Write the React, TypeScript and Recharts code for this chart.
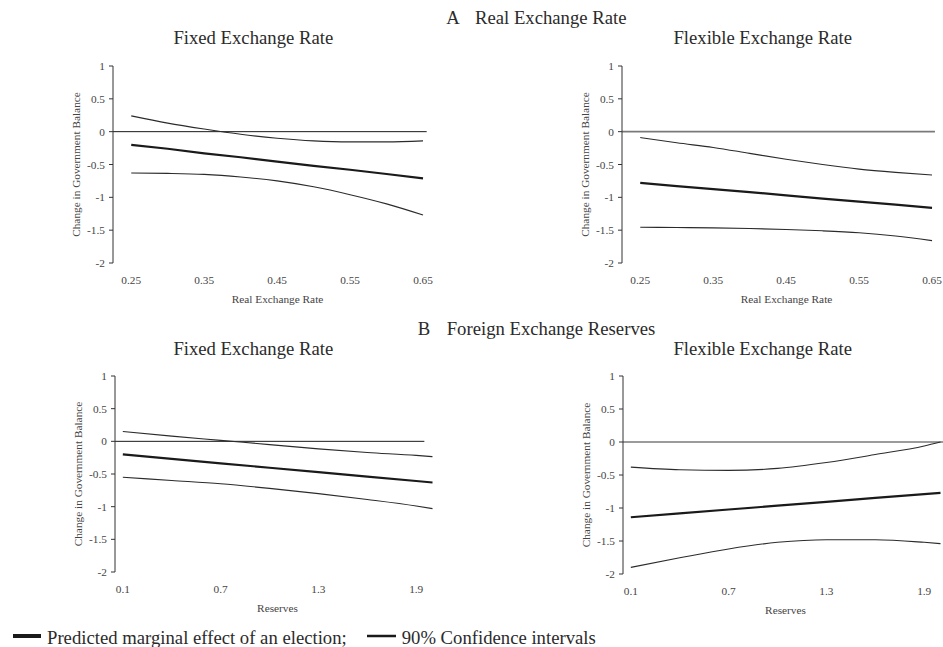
import React from 'react';
import { LineChart, Line, XAxis, YAxis, ReferenceLine } from 'recharts';

const FONT = '"Liberation Serif", "Times New Roman", serif';
const INK = '#2b2b2b';
const SMALL_INK = '#444';

const yTicks = [1, 0.5, 0, -0.5, -1, -1.5, -2];

// Panel A: real exchange rate
const rerX = [0.25, 0.3, 0.35, 0.4, 0.45, 0.5, 0.55, 0.6, 0.65];
const rerTicks = [0.25, 0.35, 0.45, 0.55, 0.65];
const rerTickMarks = [0.225, 0.325, 0.425, 0.525, 0.625];
const rerFixedUpper = [0.24, 0.13, 0.04, -0.04, -0.1, -0.14, -0.155, -0.155, -0.14];
const rerFixedPred = [-0.2, -0.26, -0.33, -0.39, -0.455, -0.52, -0.58, -0.645, -0.71];
const rerFixedLower = [-0.63, -0.635, -0.65, -0.69, -0.75, -0.84, -0.96, -1.1, -1.27];
const rerFlexUpper = [-0.09, -0.17, -0.24, -0.33, -0.42, -0.5, -0.57, -0.62, -0.66];
const rerFlexPred = [-0.78, -0.83, -0.875, -0.92, -0.97, -1.02, -1.065, -1.11, -1.16];
const rerFlexLower = [-1.455, -1.46, -1.465, -1.475, -1.49, -1.51, -1.54, -1.59, -1.66];

// Panel B: foreign exchange reserves
const resX = [0.1, 0.4, 0.7, 1.0, 1.3, 1.6, 1.9, 2.0];
const resTicks = [0.1, 0.7, 1.3, 1.9];
const resTickMarks = [0.052, 0.652, 1.252, 1.852];
const resFixedUpper = [0.15, 0.08, 0.015, -0.05, -0.115, -0.17, -0.215, -0.235];
const resFixedPred = [-0.2, -0.268, -0.336, -0.404, -0.472, -0.539, -0.607, -0.63];
const resFixedLower = [-0.55, -0.6, -0.65, -0.72, -0.8, -0.89, -0.99, -1.03];
const resFlexUpper = [-0.38, -0.42, -0.43, -0.4, -0.31, -0.19, -0.06, 0.0];
const resFlexPred = [-1.14, -1.082, -1.023, -0.965, -0.906, -0.848, -0.789, -0.77];
const resFlexLower = [-1.9, -1.755, -1.62, -1.52, -1.48, -1.48, -1.52, -1.54];

const rerDomain: [number, number] = [0.225, 0.676];
const resDomain: [number, number] = [0.052, 2.046];

interface PanelProps {
  left: number;
  top: number;
  width: number;
  axisX: number;
  plotTop: number;
  plotBottom: number;
  plotRight: number;
  xs: number[];
  upper: number[];
  pred: number[];
  lower: number[];
  domain: [number, number];
  ticks: number[];
  tickMarks: number[];
  xLabel: string;
  zeroEnd: number;
  zeroColor: string;
  zeroWidth: number;
}

const Y_AXIS_W = 75;
const X_AXIS_H = 45;

function Panel(p: PanelProps) {
  const data = p.xs.map((x, i) => ({ x, upper: p.upper[i], pred: p.pred[i], lower: p.lower[i] }));
  const height = p.plotBottom - p.top + X_AXIS_H;
  const smallText = { fill: SMALL_INK, fontSize: 11.3, fontFamily: FONT };

  return (
    <div style={{ position: 'absolute', left: p.left, top: p.top }}>
      <LineChart
        width={p.width}
        height={height}
        data={data}
        margin={{
          top: p.plotTop - p.top,
          right: p.left + p.width - p.plotRight,
          bottom: 0,
          left: p.axisX - Y_AXIS_W - p.left,
        }}
      >
        {/* tick marks sit between the labelled values, so they get their own axis */}
        <XAxis
          xAxisId="marks"
          type="number"
          dataKey="x"
          domain={p.domain}
          ticks={p.tickMarks}
          allowDataOverflow
          interval={0}
          height={0}
          tickSize={4}
          tickFormatter={() => ''}
          stroke="#333"
        />
        <XAxis
          xAxisId="labels"
          type="number"
          dataKey="x"
          domain={p.domain}
          ticks={p.ticks}
          allowDataOverflow
          interval={0}
          height={X_AXIS_H}
          axisLine={false}
          tickLine={false}
          tickSize={0}
          tickMargin={12.5}
          tick={smallText}
          label={{ value: p.xLabel, position: 'insideTop', offset: 32, style: smallText }}
        />
        <YAxis
          type="number"
          domain={[-2, 1]}
          ticks={yTicks}
          allowDataOverflow
          interval={0}
          width={Y_AXIS_W}
          tickSize={4}
          tickMargin={4}
          stroke="#333"
          tick={smallText}
          label={{
            value: 'Change in Government Balance',
            angle: -90,
            position: 'center',
            style: smallText,
          }}
        />
        <ReferenceLine
          xAxisId="labels"
          segment={[{ x: p.domain[0], y: 0 }, { x: p.zeroEnd, y: 0 }]}
          stroke={p.zeroColor}
          strokeWidth={p.zeroWidth}
          ifOverflow="visible"
        />
        <Line xAxisId="labels" type="monotone" dataKey="upper" stroke="#2b2b2b" strokeWidth={1.1} dot={false} isAnimationActive={false} />
        <Line xAxisId="labels" type="monotone" dataKey="lower" stroke="#2b2b2b" strokeWidth={1.1} dot={false} isAnimationActive={false} />
        <Line xAxisId="labels" type="linear" dataKey="pred" stroke="#1a1a1a" strokeWidth={2.2} dot={false} isAnimationActive={false} />
      </LineChart>
    </div>
  );
}

export default function App() {
  const heading = { fill: INK, fontSize: 18.7, fontFamily: FONT };

  return (
    <div
      style={{
        position: 'absolute',
        left: 0,
        top: 0,
        width: 943,
        height: 647,
        overflow: 'hidden',
        background: '#fff',
      }}
    >
      <Panel
        left={0} top={50} width={470}
        axisX={113} plotTop={66} plotBottom={263} plotRight={442}
        xs={rerX} upper={rerFixedUpper} pred={rerFixedPred} lower={rerFixedLower}
        domain={rerDomain} ticks={rerTicks} tickMarks={rerTickMarks}
        xLabel="Real Exchange Rate" zeroEnd={0.655} zeroColor="#1a1a1a" zeroWidth={1}
      />
      <Panel
        left={470} top={50} width={481}
        axisX={622} plotTop={66} plotBottom={263} plotRight={951}
        xs={rerX} upper={rerFlexUpper} pred={rerFlexPred} lower={rerFlexLower}
        domain={rerDomain} ticks={rerTicks} tickMarks={rerTickMarks}
        xLabel="Real Exchange Rate" zeroEnd={0.654} zeroColor="#7a7a7a" zeroWidth={1.6}
      />
      <Panel
        left={0} top={360} width={470}
        axisX={115} plotTop={376} plotBottom={572} plotRight={440}
        xs={resX} upper={resFixedUpper} pred={resFixedPred} lower={resFixedLower}
        domain={resDomain} ticks={resTicks} tickMarks={resTickMarks}
        xLabel="Reserves" zeroEnd={1.95} zeroColor="#1a1a1a" zeroWidth={1}
      />
      <Panel
        left={470} top={360} width={478}
        axisX={623} plotTop={376} plotBottom={574} plotRight={948}
        xs={resX} upper={resFlexUpper} pred={resFlexPred} lower={resFlexLower}
        domain={resDomain} ticks={resTicks} tickMarks={resTickMarks}
        xLabel="Reserves" zeroEnd={2.04} zeroColor="#7a7a7a" zeroWidth={1.6}
      />

      <svg
        width={943}
        height={647}
        style={{ position: 'absolute', left: 0, top: 0, pointerEvents: 'none' }}
      >
        <text x={453} y={23.5} textAnchor="middle" style={heading}>A</text>
        <text x={475} y={23.5} style={heading}>Real Exchange Rate</text>
        <text x={253.3} y={44.3} textAnchor="middle" style={heading}>Fixed Exchange Rate</text>
        <text x={762.7} y={44.3} textAnchor="middle" style={heading}>Flexible Exchange Rate</text>

        <text x={424} y={335} textAnchor="middle" style={heading}>B</text>
        <text x={446.7} y={335} style={heading}>Foreign Exchange Reserves</text>
        <text x={253.3} y={355} textAnchor="middle" style={heading}>Fixed Exchange Rate</text>
        <text x={762.7} y={355} textAnchor="middle" style={heading}>Flexible Exchange Rate</text>

        <line x1={13} x2={41} y1={636} y2={636} stroke="#1a1a1a" strokeWidth={4} />
        <text x={47} y={643.5} style={heading}>Predicted marginal effect of an election;</text>
        <line x1={367} x2={396} y1={636} y2={636} stroke="#1a1a1a" strokeWidth={2.5} />
        <text x={401.7} y={643.5} style={heading}>90% Confidence intervals</text>
      </svg>
    </div>
  );
}
